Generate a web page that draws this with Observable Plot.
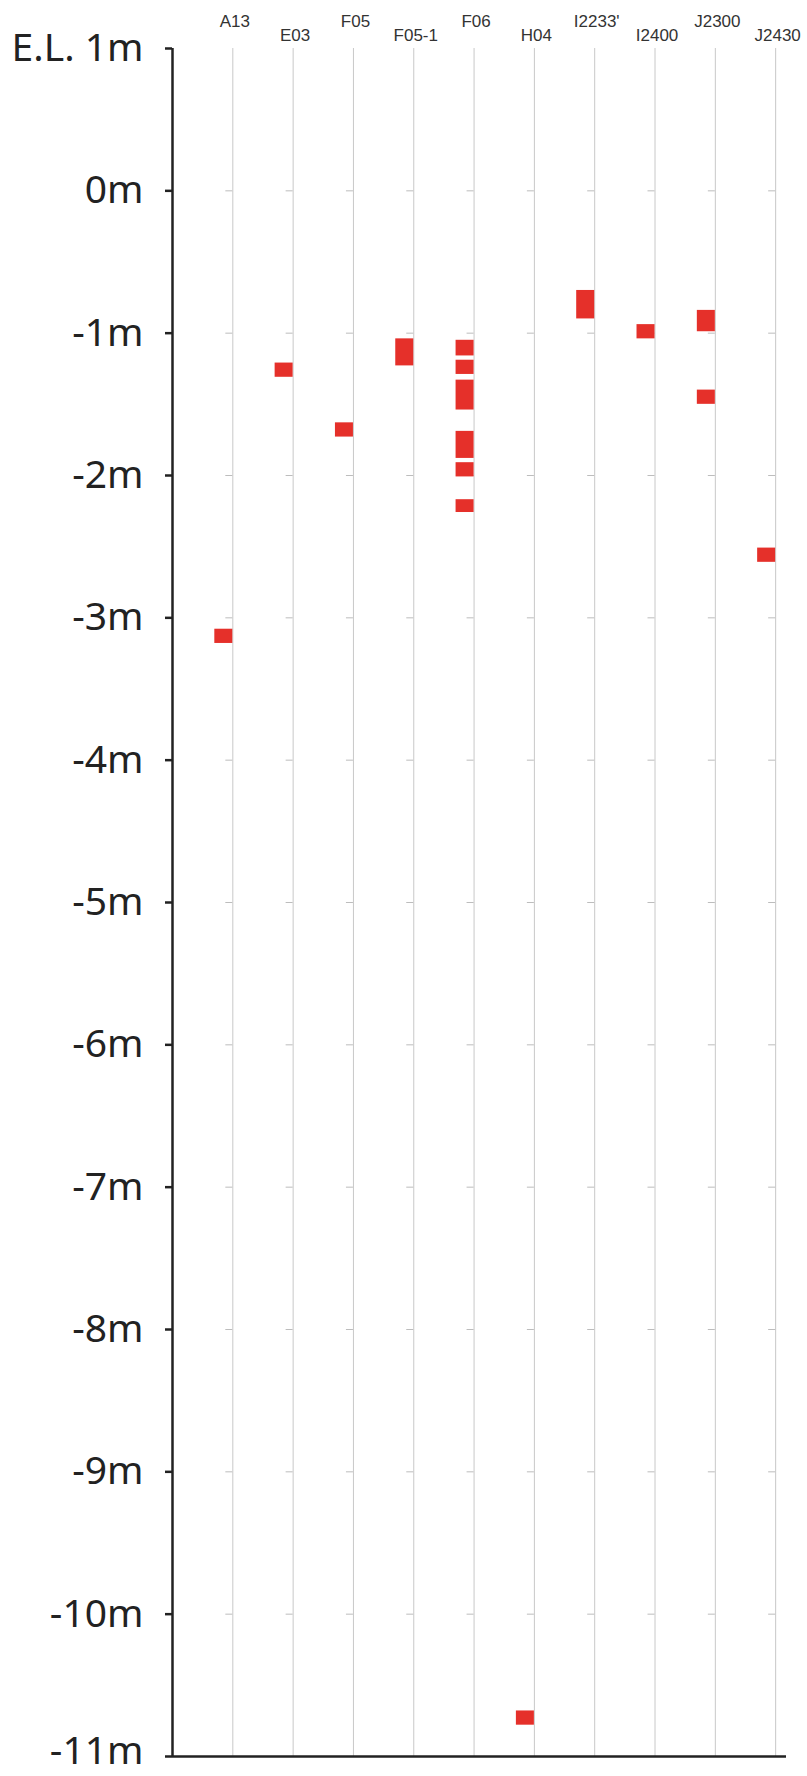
<!DOCTYPE html>
<html>
<head>
<meta charset="utf-8">
<script src="https://cdn.jsdelivr.net/npm/d3@7"></script>
<script src="https://cdn.jsdelivr.net/npm/@observablehq/plot@0.6"></script>
<style>
  html, body { margin: 0; padding: 0; background: #fff; }
  #chart svg [aria-label^="y-axis"] line,
  #chart svg [aria-label^="y-axis"] path { stroke-width: 2.5px; }
</style>
</head>
<body>
<div id="chart"></div>
<script>
// Boring holes (columns)
const holes = ["A13", "E03", "F05", "F05-1", "F06", "H04", "I2233'", "I2400", "J2300", "J2430"];

// Layers: hole, top elevation (m), bottom elevation (m)
const layerHole   = ["A13", "E03", "F05", "F05-1", "F06", "F06", "F06", "F06", "F06", "F06", "H04", "I2233'", "I2400", "J2300", "J2300", "J2430"];
const layerTop    = [-3.08, -1.21, -1.63, -1.04, -1.05, -1.19, -1.33, -1.69, -1.91, -2.17, -10.68, -0.70, -0.94, -0.84, -1.40, -2.51];
const layerBottom = [-3.18, -1.31, -1.73, -1.23, -1.16, -1.29, -1.54, -1.88, -2.01, -2.26, -10.78, -0.90, -1.04, -0.99, -1.50, -2.61];

// Elevation ticks
const elevTicks  = [1, 0, -1, -2, -3, -4, -5, -6, -7, -8, -9, -10, -11];
const elevLabels = ["E.L. 1m", "0m", "-1m", "-2m", "-3m", "-4m", "-5m", "-6m", "-7m", "-8m", "-9m", "-10m", "-11m"];

const cols = holes.map((name, i) => ({pos: i + 1, name, row: i % 2}));
const layers = layerHole.map((h, i) => ({pos: holes.indexOf(h) + 1, top: layerTop[i], bottom: layerBottom[i]}));
const meterTicks = cols.flatMap(c => elevTicks.filter(t => t < 1 && t > -11).map(t => ({pos: c.pos, y: t})));
const lastTick = elevTicks[elevTicks.length - 1];

const chart = Plot.plot({
  width: 807,
  height: 1776,
  marginLeft: 172,
  marginRight: 21,
  marginTop: 48,
  marginBottom: 20,
  x: {domain: [0, 10.18], axis: null},
  y: {
    domain: [-11, 1],
    ticks: elevTicks,
    tickFormat: d => d === lastTick ? "" : elevLabels[elevTicks.indexOf(d)],
    tickSize: 7,
    tickPadding: 22,
    label: null
  },
  style: {fontFamily: "'Noto Sans', sans-serif", fontSize: "39px", color: "#222", background: "white", overflow: "visible"},
  marks: [
    Plot.ruleX(cols, {x: "pos", stroke: "#c8c8c8", strokeWidth: 1}),
    Plot.ruleY(meterTicks, {x1: "pos", x2: "pos", y: "y", insetLeft: -7, stroke: "#bdbdbd", strokeWidth: 1}),
    Plot.rect(layers, {x1: "pos", x2: "pos", y1: "top", y2: "bottom", insetLeft: -18, fill: "#e5302a"}),
    Plot.ruleX([0], {stroke: "#222", strokeWidth: 2.5}),
    Plot.ruleY([-11], {stroke: "#222", strokeWidth: 2.5}),
    Plot.text([lastTick], {y: d => d, text: d => elevLabels[elevTicks.indexOf(d)], frameAnchor: "left", textAnchor: "end", lineAnchor: "middle", dx: -29, dy: -5, fill: "#222"}),
    Plot.text(cols.filter(c => c.row === 0), {x: "pos", text: "name", frameAnchor: "top", lineAnchor: "bottom", dy: -22, dx: 2, fontSize: 17, fontFamily: "'Liberation Sans', Arial, sans-serif", fill: "#333"}),
    Plot.text(cols.filter(c => c.row === 1), {x: "pos", text: "name", frameAnchor: "top", lineAnchor: "bottom", dy: -8, dx: 2, fontSize: 17, fontFamily: "'Liberation Sans', Arial, sans-serif", fill: "#333"})
  ]
});
document.getElementById("chart").appendChild(chart);
</script>
</body>
</html>
